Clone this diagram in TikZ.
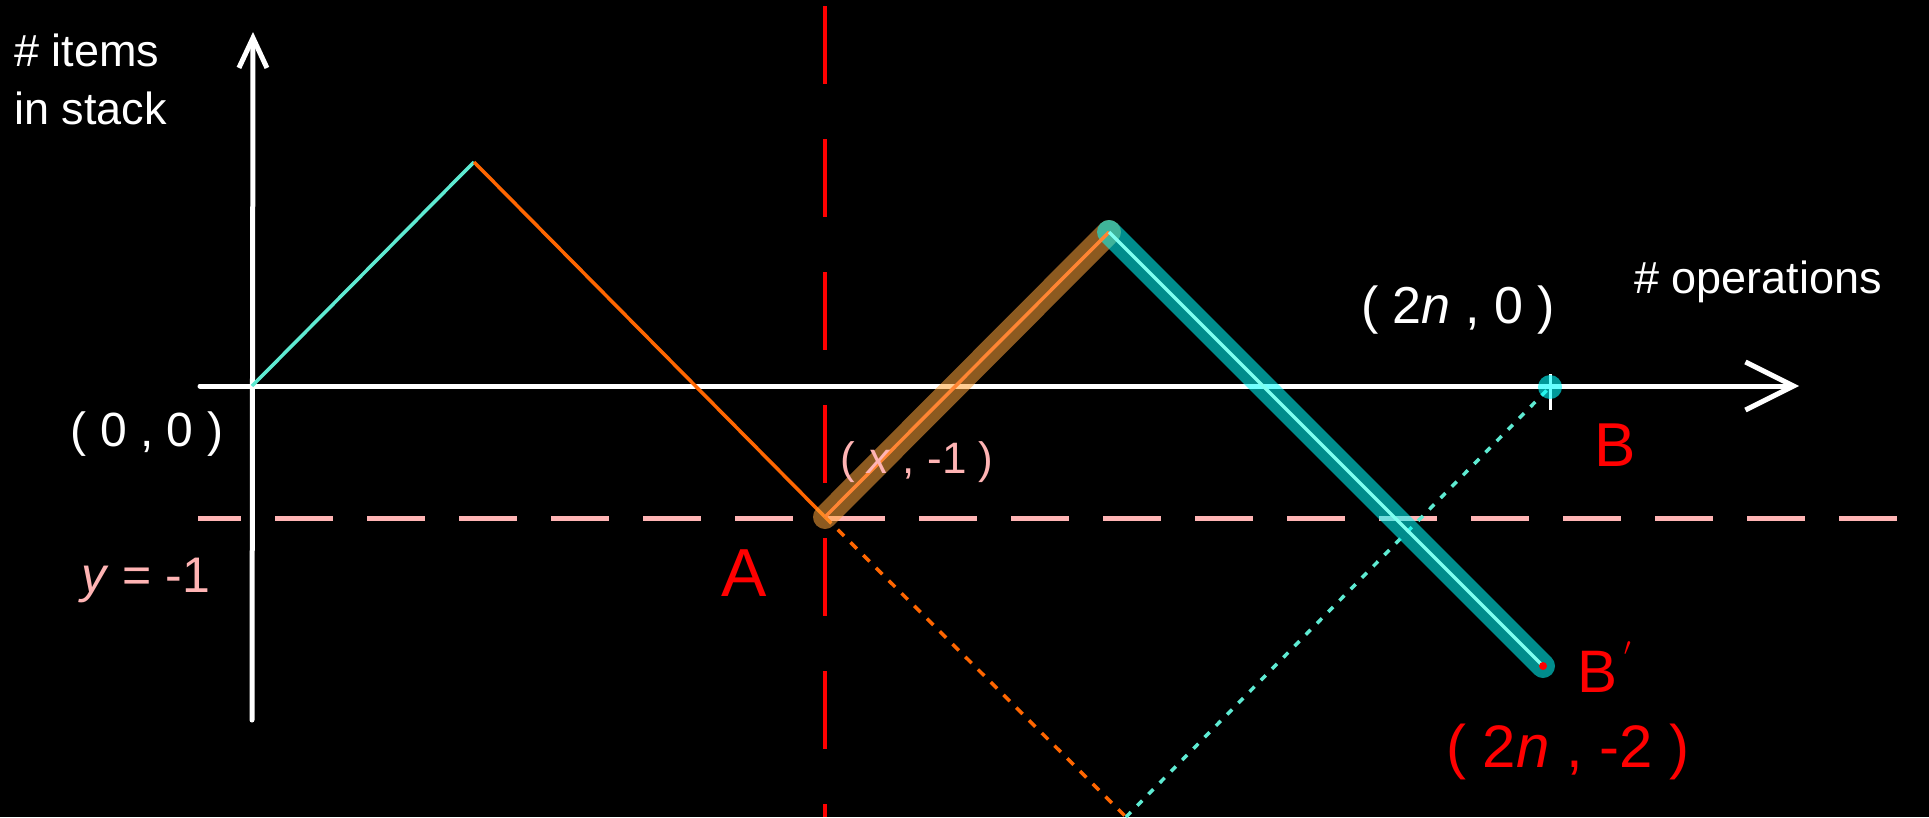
\documentclass[tikz,border=0pt]{standalone}
\usepackage{fontspec}
\setmainfont{Liberation Sans}
\usetikzlibrary{arrows.meta}
\definecolor{aqua}{RGB}{94,234,210}
\definecolor{orng}{RGB}{255,102,0}
\definecolor{pnk}{RGB}{255,180,180}
\definecolor{lcyan}{RGB}{127,255,240}
\definecolor{bandorange}{RGB}{255,165,60}
\definecolor{bandcyan}{RGB}{0,255,255}
\definecolor{pred}{RGB}{255,0,0}
\tikzset{
  axis/.style={white, line width=5pt, line cap=round},
  hand/.style={inner sep=0pt, font=\fontsize{#1}{#1}\selectfont},
  thickband/.style={line width=24pt, line cap=round, opacity=0.55},
  dotline/.style={line width=3.5pt, dash pattern=on 9pt off 9pt},
}
\begin{document}
\begin{tikzpicture}[x=1pt,y=-1pt]
\useasboundingbox[fill=black] (0,0) rectangle (1929,817);
% coordinates
\coordinate (O) at (252,386);
\coordinate (ytop) at (253,32);
\coordinate (ybot) at (252,720);
\coordinate (xl) at (200,386);
\coordinate (xr) at (1799,386);
\coordinate (P1) at (474,162);
\coordinate (A) at (825,517);
\coordinate (P2) at (1109,232);
\coordinate (Bp) at (1543,666);
\coordinate (B) at (1550,387);
\coordinate (low) at (1126,817);
\coordinate (vtop) at (825,6);
\coordinate (vbot) at (825,817);
\coordinate (hl) at (198,518);
\coordinate (hr) at (1929,518);
\coordinate (tickt) at (1550,374);
\coordinate (tickb) at (1550,410);
% dashed guides
\draw[pnk, line width=5pt, dash pattern=on 58pt off 34pt, dash phase=15pt] (hl) -- (hr);
\draw[pred, line width=3.5pt, dash pattern=on 78pt off 55pt] (vtop) -- (vbot);
% axes
\draw[axis, -{Straight Barb[length=30pt,width=28pt,line width=5pt]}] (ybot) -- (ytop);
\draw[axis, -{Straight Barb[length=48pt,width=48pt,line width=5pt]}] (xl) -- (xr);
% path lines
\draw[aqua, line width=3.5pt] (O) -- (P1);
\draw[orng, line width=3.5pt] (P1) -- (A);
% dotted reflections
\draw[orng, dotline] (A) -- (low);
\draw[aqua, dotline, dash pattern=on 7pt off 9pt] (low) -- (B);
% thick bands
\draw[bandorange, thickband] (A) -- (P2);
\draw[bandcyan, thickband] (P2) -- (Bp);
\draw[orng!80!white, line width=3.5pt] (A) -- (P2);
\draw[lcyan, line width=3.5pt] (P2) -- (Bp);
% points
\draw[white, line width=3pt] (tickt) -- (tickb);
\fill[bandcyan, opacity=0.6] (B) circle (12pt);
\fill[pred] (Bp) circle (4pt);
% labels
\node[anchor=north west, align=left, inner sep=0pt, font=\fontsize{45}{58}\selectfont, white] (ylab) at (14,34) {\# items\\in stack};
\node[anchor=base west, inner sep=0pt, font=\fontsize{45}{45}\selectfont, white] (xlab) at (1634,293) {\# operations};
\node[hand=48, white] (l00) at (147,434) {( 0 , 0 )};
\node[hand=50, pnk] (ly) at (146,580) {\textit{y} = -1};
\node[hand=68, red] (lA) at (744,573) {A};
\node[hand=44, pnk] (lx) at (917,462) {( \textit{x} , -1 )};
\node[hand=52, white] (l2n0) at (1458,310) {( 2\textit{n} , 0 )};
\node[hand=62, pred] (lB) at (1615,445) {B};
\node[hand=60, pred, anchor=west] (lBp) at (1577,667) {B\raisebox{0.9ex}{\fontsize{40}{40}\selectfont\,$'$}};
\node[hand=60, pred] (l2n2) at (1568,752) {( 2\textit{n} , -2 )};
\end{tikzpicture}
\end{document}
